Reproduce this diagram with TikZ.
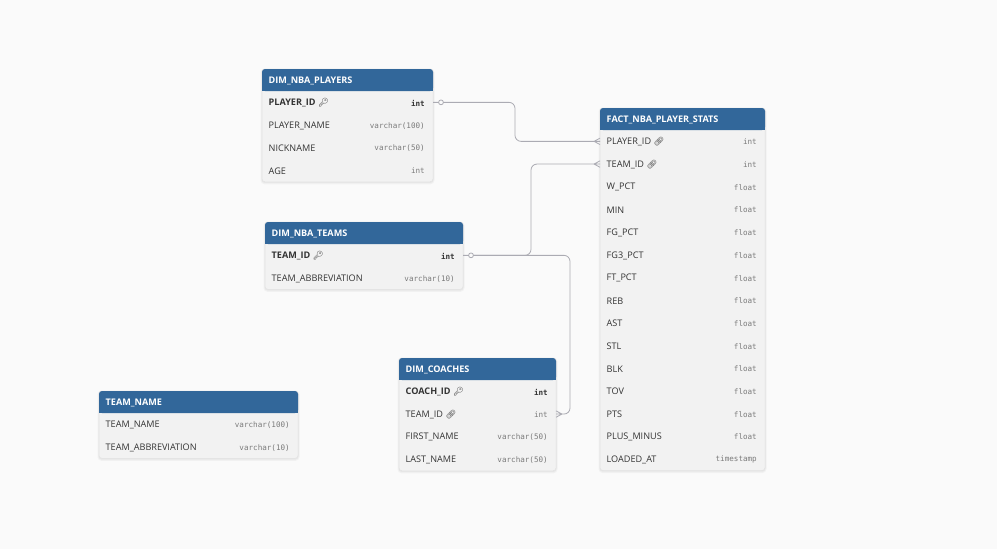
\documentclass[tikz,border=0pt]{standalone}
\usepackage{fontspec}
\setmainfont{Open Sans}
\newfontfamily\monofont{DejaVu Sans Mono}
\newfontfamily\emojifont{Noto Emoji}
\usetikzlibrary{calc}
\definecolor{bgc}{HTML}{FAFAFA}
\definecolor{hdr}{HTML}{32679A}
\definecolor{rowbg}{HTML}{F2F2F2}
\definecolor{bordc}{HTML}{E2E2E2}
\definecolor{txt}{HTML}{333333}
\definecolor{typec}{HTML}{7A7A7A}
\definecolor{linec}{HTML}{ABABB3}
\tikzset{
  hdrtext/.style={anchor=west, inner sep=0pt, text=white, font=\fontsize{9.1}{11}\selectfont\bfseries},
  fieldtext/.style={anchor=west, inner sep=0pt, text=txt, font=\fontsize{9.1}{11}\selectfont},
  typetext/.style={anchor=east, inner sep=0pt, text=typec, font=\monofont\fontsize{7.6}{9}\selectfont},
  conn/.style={draw=linec, line width=0.8pt, rounded corners=6},
  crow/.style={draw=linec, line width=0.8pt},
  onecircle/.style={draw=linec, line width=0.8pt, fill=bgc},
}
\newcommand\keyicon{\hspace{2.5pt}{\color{black!80}\emojifont\fontsize{8.5}{9}\selectfont\char"1F511}}
\newcommand\linkicon{\hspace{2.5pt}{\color{black!80}\emojifont\fontsize{8.5}{9}\selectfont\char"1F517}}
\def\pflag{p}
\def\fflag{f}
% #1 name, #2 x, #3 y, #4 width, #5 title, #6 number of rows, #7 rows
\newcommand\ertable[7]{%
  \fill[black, opacity=0.035, rounded corners=4] (#2-1.5,#3-0.5) rectangle (#2+#4+1.5, #3+22+#6*22.7+2.5);
  \fill[black, opacity=0.04, rounded corners=3] (#2-0.5,#3) rectangle (#2+#4+0.5, #3+22+#6*22.7+1.2);
  \draw[draw=bordc, fill=rowbg, rounded corners=3, line width=0.5pt] (#2,#3) rectangle (#2+#4, #3+22+#6*22.7);
  \fill[hdr, rounded corners=3] (#2,#3) rectangle (#2+#4,#3+22);
  \fill[hdr] (#2,#3+10) rectangle (#2+#4,#3+22);
  \node[hdrtext] (#1) at (#2+6.5,#3+11.6) {#5};
  \foreach \fld/\ty/\flag [count=\i] in {#7} {
    \coordinate (#1-\i-l) at (#2, #3+22+\i*22.7-11.35);
    \coordinate (#1-\i-r) at (#2+#4, #3+22+\i*22.7-11.35);
    \node[fieldtext] (#1-\i) at (#2+6.5, #3+22+\i*22.7-10.7)
      {\ifx\flag\pflag\bfseries\fi\fld\ifx\flag\pflag\keyicon\fi\ifx\flag\fflag\linkicon\fi};
    \node[typetext] (#1-\i-t) at (#2+#4-8, #3+22+\i*22.7-10.7)
      {\ifx\flag\pflag\bfseries\color{txt}\fi\ty};
  }%
}
\begin{document}
\begin{tikzpicture}[x=1pt,y=-1pt]
\fill[bgc] (0,0) rectangle (997,549);
\useasboundingbox (0,0) rectangle (997,549);

\ertable{players}{262}{69}{171}{DIM\_NBA\_PLAYERS}{4}{%
  PLAYER\_ID/int/p, PLAYER\_NAME/varchar(100)/n, NICKNAME/varchar(50)/n, AGE/int/n}
\ertable{fact}{600}{108}{165}{FACT\_NBA\_PLAYER\_STATS}{15}{%
  PLAYER\_ID/int/f, TEAM\_ID/int/f, W\_PCT/float/n, MIN/float/n, FG\_PCT/float/n,
  FG3\_PCT/float/n, FT\_PCT/float/n, REB/float/n, AST/float/n, STL/float/n,
  BLK/float/n, TOV/float/n, PTS/float/n, PLUS\_MINUS/float/n, LOADED\_AT/timestamp/n}
\ertable{teams}{265}{222}{198}{DIM\_NBA\_TEAMS}{2}{%
  TEAM\_ID/int/p, TEAM\_ABBREVIATION/varchar(10)/n}
\ertable{coaches}{399}{358}{157}{DIM\_COACHES}{4}{%
  COACH\_ID/int/p, TEAM\_ID/int/f, FIRST\_NAME/varchar(50)/n, LAST\_NAME/varchar(50)/n}
\ertable{teamname}{99}{391}{199}{TEAM\_NAME}{2}{%
  TEAM\_NAME/varchar(100)/n, TEAM\_ABBREVIATION/varchar(10)/n}

% players.PLAYER_ID -> fact.PLAYER_ID
\draw[conn] (players-1-r) -| ([xshift=-85]fact-1-l) -- ([xshift=-6]fact-1-l);
\draw[crow] ([xshift=-6]fact-1-l) -- ([yshift=-3.2]fact-1-l)
            ([xshift=-6]fact-1-l) -- (fact-1-l)
            ([xshift=-6]fact-1-l) -- ([yshift=3.2]fact-1-l);
\draw[onecircle] ([xshift=8]players-1-r) circle (2.4);

% teams.TEAM_ID -> fact.TEAM_ID
\draw[conn] (teams-1-r) -| ([xshift=-69]fact-2-l) -- ([xshift=-6]fact-2-l);
\draw[crow] ([xshift=-6]fact-2-l) -- ([yshift=-3.2]fact-2-l)
            ([xshift=-6]fact-2-l) -- (fact-2-l)
            ([xshift=-6]fact-2-l) -- ([yshift=3.2]fact-2-l);

% teams.TEAM_ID -> coaches.TEAM_ID
\draw[conn] ([xshift=10]teams-1-r) -| ([xshift=14]coaches-2-r) -- ([xshift=6]coaches-2-r);
\draw[crow] ([xshift=6]coaches-2-r) -- ([yshift=-3.2]coaches-2-r)
            ([xshift=6]coaches-2-r) -- (coaches-2-r)
            ([xshift=6]coaches-2-r) -- ([yshift=3.2]coaches-2-r);
\draw[onecircle] ([xshift=8]teams-1-r) circle (2.4);
\end{tikzpicture}
\end{document}
